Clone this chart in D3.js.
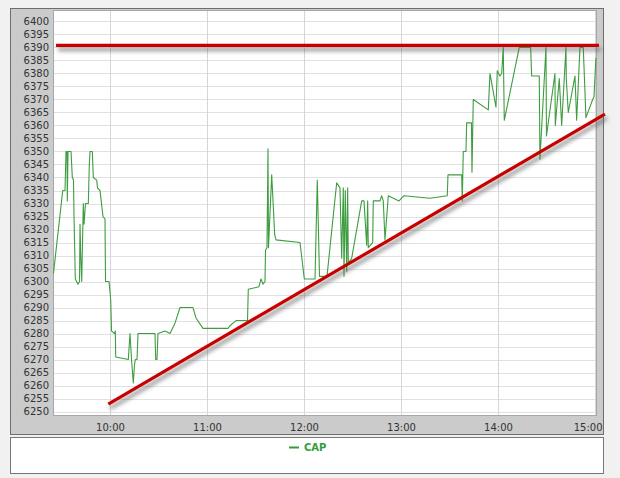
<!DOCTYPE html>
<html><head><meta charset="utf-8">
<script src="https://cdn.jsdelivr.net/npm/d3@7"></script>
<style>body{margin:0;background:#f1f1f1;} svg{display:block;}</style>
</head><body><svg id="c" width="620" height="478"></svg>
<script>
// ---- data ----
const seriesName = "CAP";
const times = ["09:25:00","09:30:45","09:32:10","09:32:47","09:33:24","09:33:35","09:34:01","09:35:53","09:36:41","09:37:25",
"09:37:44","09:38:32","09:40:12","09:41:08","09:41:27","09:41:53","09:42:30","09:42:59","09:43:29","09:43:55",
"09:44:51","09:46:35","09:47:12","09:47:38","09:49:03","09:49:40","09:51:46","09:52:16","09:53:49","09:55:40",
"09:56:54","09:57:13","09:59:23","10:00:26","10:00:56","10:02:47","10:03:17","10:03:32","10:11:19","10:12:22",
"10:13:18","10:14:25","10:15:09","10:15:39","10:16:42","10:17:19","10:18:33","10:27:50","10:28:16","10:29:04",
"10:29:41","10:34:01","10:37:07","10:40:12","10:43:18","10:51:20","10:53:11","10:57:31","11:12:59","11:14:13",
"11:16:05","11:17:56","11:25:03","11:25:32","11:32:09","11:33:24","11:34:38","11:35:52","11:36:11","11:37:06",
"11:37:43","11:38:02","11:40:01","11:41:52","11:42:40","11:57:31","12:00:11","12:06:48","12:08:13","12:09:35",
"12:14:13","12:20:13","12:22:15","12:23:18","12:24:18","12:24:44","12:25:32","12:26:24","12:27:01","12:27:23",
"12:29:30","12:35:41","12:37:06","12:38:46","12:39:23","12:39:45","12:42:29","12:42:51","12:47:00","12:48:03",
"12:49:02","12:50:05","12:52:08","12:55:13","12:58:45","13:01:50","13:17:55","13:28:37","13:29:03","13:37:32",
"13:37:54","13:38:31","13:40:11","13:40:37","13:43:35","13:43:54","13:44:42","13:53:59","13:55:02","13:58:44",
"13:59:33","14:01:13","14:02:16","14:03:15","14:03:53","14:13:09","14:20:12","14:20:49","14:25:31","14:25:57",
"14:29:40","14:29:58","14:35:14","14:35:25","14:37:54","14:39:23","14:42:02","14:42:14","14:43:28","14:47:36",
"14:48:39","14:50:42","14:52:44","14:54:24","14:58:33","14:59:22","15:00:35"];
const values = [6303,6335,6335,6350,6350,6331,6350,6350,6340,6339,
6325,6301,6299,6300,6322,6310,6300,6315,6330,6322,
6330,6330,6345,6350,6350,6340,6339,6336,6335,6325,
6324,6300,6300,6293,6281,6280,6281,6271,6270,6280,
6270,6261,6268,6270,6270,6280,6280,6280,6270,6270,
6280,6281,6280,6284,6290,6290,6286,6282,6282,6283,
6284,6285,6285,6297,6298,6301,6299,6300,6312,6313,
6351,6313,6341,6318,6316,6315,6301,6301,6339,6302,
6302,6338,6336,6309,6336,6302,6335,6304,6336,6307,
6309,6331,6331,6314,6331,6313,6315,6331,6331,6333,
6331,6316,6333,6332,6331,6333,6332,6333,6341,6341,
6331,6350,6350,6361,6361,6342,6370,6366,6380,6367,
6381,6379,6380,6390,6362,6390,6390,6379,6379,6347,
6390,6356,6380,6360,6378,6360,6390,6378,6365,6379,
6362,6390,6390,6363,6370,6371,6386];
const yTicks = d3.range(6250, 6401, 5);
const xTickLabels = ["10:00","11:00","12:00","13:00","14:00","15:00"];
const resistanceTimes = ["09:26:36","15:02:27"];
const resistanceValues = [6390.8, 6390.8];
const supportTimes = ["09:58:57","15:06:09"];
const supportValues = [6252.9, 6364.4];

// ---- drawing ----
const parse = d3.timeParse("%H:%M:%S");
const parseHM = d3.timeParse("%H:%M");
const svg = d3.select("#c");
const L = 53, R = 597, T = 10, B = 416;
const x = d3.scaleTime().domain([parse("09:24:44"), parse("15:01:14")]).range([L, R]);
const y = d3.scaleLinear().domain([6248.3, 6404.4]).range([B, T]);
const font = "'DejaVu Sans', Verdana, sans-serif";

const defs = svg.append("defs");
const f = defs.append("filter").attr("id","sh").attr("filterUnits","userSpaceOnUse")
  .attr("x",0).attr("y",0).attr("width",620).attr("height",478);
f.append("feGaussianBlur").attr("in","SourceAlpha").attr("stdDeviation",2).attr("result","b");
f.append("feOffset").attr("in","b").attr("dx",2).attr("dy",4).attr("result","o");
f.append("feFlood").attr("flood-color","#555").attr("flood-opacity",0.7).attr("result","c");
f.append("feComposite").attr("in","c").attr("in2","o").attr("operator","in").attr("result","s");
const fm = f.append("feMerge"); fm.append("feMergeNode").attr("in","s"); fm.append("feMergeNode").attr("in","SourceGraphic");

// panels
svg.append("rect").attr("x",10.5).attr("y",8.5).attr("width",593).attr("height",426).attr("fill","#cbcbcb").attr("stroke","#6e6e6e");
svg.append("rect").attr("x",L).attr("y",T).attr("width",R-L).attr("height",B-T).attr("fill","#fff");
svg.append("rect").attr("x",10.5).attr("y",437.5).attr("width",593).attr("height",36).attr("fill","#fff").attr("stroke","#777");

// grid
svg.append("g").selectAll("line").data(yTicks).join("line")
  .attr("x1",L).attr("x2",R).attr("y1",d=>Math.round(y(d))+0.5).attr("y2",d=>Math.round(y(d))+0.5)
  .attr("stroke","#e1e1e1");
svg.append("g").selectAll("line").data(xTickLabels.map(parseHM)).join("line")
  .attr("y1",T).attr("y2",B).attr("x1",d=>Math.round(x(d))+0.5).attr("x2",d=>Math.round(x(d))+0.5)
  .attr("stroke","#d6d6d6");
svg.append("rect").attr("x",L+0.5).attr("y",T+0.5).attr("width",R-L-1).attr("height",B-T-1).attr("fill","none").attr("stroke","#a8a8a8");

// axes
const ya = svg.append("g").attr("transform",`translate(${L},0)`)
  .call(d3.axisLeft(y).tickValues(yTicks).tickSize(0).tickPadding(4).tickFormat(d3.format("d")));
ya.select(".domain").remove();
ya.selectAll("text").attr("font-family",font).attr("font-size",10).attr("fill","#333");

const xa = svg.append("g").attr("transform",`translate(0,${B})`)
  .call(d3.axisBottom(x).tickValues(xTickLabels.map(parseHM)).tickSize(0).tickPadding(8).tickFormat(d3.timeFormat("%H:%M")));
xa.select(".domain").remove();
xa.selectAll("text").attr("font-family",font).attr("font-size",10).attr("fill","#333");
xa.selectAll(".tick").filter((d,i,n)=>i===n.length-1).select("text")
  .attr("text-anchor","end").attr("x", 602 - x(parseHM("15:00")));

// series
const data = times.map((t,i)=>({t:parse(t), v:values[i]}));
svg.append("path").datum(data)
  .attr("d", d3.line().x(d=>x(d.t)).y(d=>y(d.v)))
  .attr("fill","none").attr("stroke","#3d9d40").attr("stroke-width",1.1).attr("stroke-linejoin","round");

// annotation lines
const ann = [
  resistanceTimes.map((t,i)=>({t:parse(t), v:resistanceValues[i]})),
  supportTimes.map((t,i)=>({t:parse(t), v:supportValues[i]}))
];
svg.append("g").selectAll("path").data(ann).join("path")
  .attr("d", d3.line().x(d=>x(d.t)).y(d=>y(d.v)))
  .attr("fill","none").attr("stroke","#c80000").attr("stroke-width",3.2).attr("filter","url(#sh)");

// legend
const lg = svg.append("g");
lg.append("line").attr("x1",289).attr("x2",299).attr("y1",447.5).attr("y2",447.5).attr("stroke","#2f9e3c").attr("stroke-width",2);
lg.append("text").attr("x",304).attr("y",451).text(seriesName)
  .attr("font-family",font).attr("font-size",10).attr("font-weight","bold").attr("fill","#2f9e3c");
</script></body></html>
